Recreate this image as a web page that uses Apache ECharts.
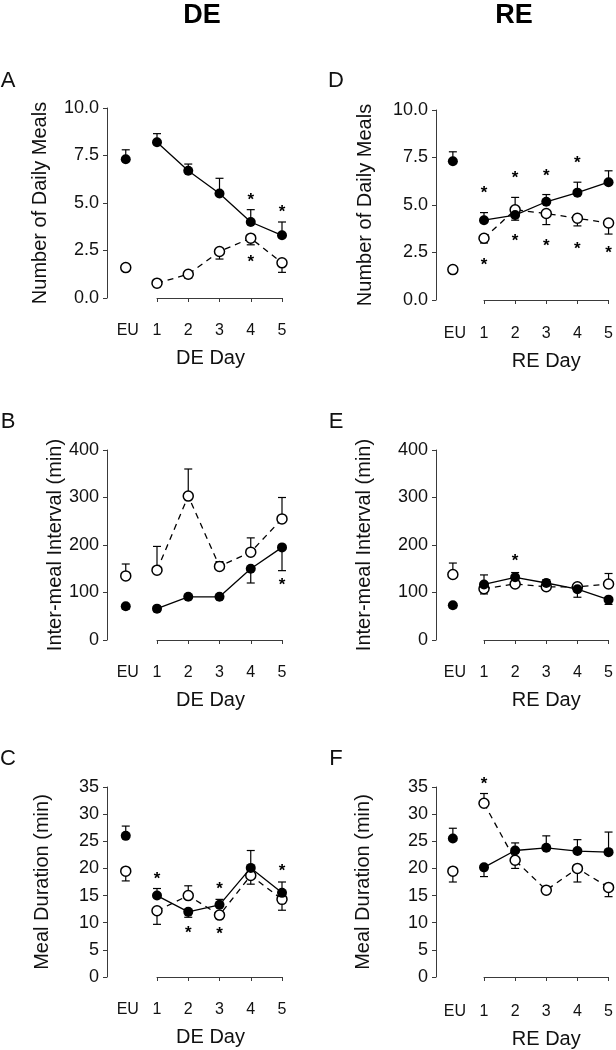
<!DOCTYPE html>
<html><head><meta charset="utf-8">
<script src="https://cdn.jsdelivr.net/npm/echarts@6/dist/echarts.min.js"></script>
<style>html,body{margin:0;padding:0;background:#fff}#c{width:616px;height:1050px}</style>
</head><body><div id="c"></div>
<script>
// ---- DATA ----
const days = [0, 1, 2, 3, 4, 5];           // 0 = EU
const dayTickLabels = ['EU', '1', '2', '3', '4', '5'];
const columnTitles = ['DE', 'RE'];

// Panel A: Number of Daily Meals (DE)
const aFilled    = [7.3, 8.2, 6.7, 5.5, 4.0, 3.3];
const aFilledErr = [7.8, 8.65, 7.05, 6.3, 4.65, 4.0];
const aOpen      = [1.6, 0.78, 1.25, 2.45, 3.15, 1.85];
const aOpenErr   = [1.6, 0.6, 1.05, 2.05, 2.8, 1.35];
const aStarsTop    = [null, null, null, null, 5.37, 4.74];
const aStarsBottom = [null, null, null, null, 2.1, null];

// Panel B: Inter-meal Interval (DE)
const bFilled    = [71, 66, 91, 91, 150, 195];
const bFilledErr = [65, 60, 87, 87, 120, 146];
const bOpen      = [135, 147, 303, 155, 185, 255];
const bOpenErr   = [160, 197, 360, 165, 215, 300];
const bStarsTop    = [null, null, null, null, null, null];
const bStarsBottom = [null, null, null, null, null, 123];

// Panel C: Meal Duration (DE)
const cFilled    = [26, 15, 12, 13.3, 20.1, 15.5];
const cFilledErr = [27.8, 16.3, 11, 14.3, 23.3, 17.5];
const cOpen      = [19.5, 12.2, 15, 11.4, 18.7, 14.3];
const cOpenErr   = [17.7, 9.7, 16.8, 10.9, 17.1, 12.3];
const cStarsTop    = [null, 18.7, null, 16.9, null, 20.2];
const cStarsBottom = [null, null, 8.8, 8.6, null, null];

// Panel D: Number of Daily Meals (RE)
const dFilled    = [7.3, 4.2, 4.47, 5.17, 5.65, 6.2];
const dFilledErr = [7.8, 4.6, 4.2, 5.55, 6.2, 6.8];
const dOpen      = [1.6, 3.25, 4.75, 4.55, 4.3, 4.05];
const dOpenErr   = [1.6, 3.0, 5.4, 3.97, 3.9, 3.47];
const dStarsTop    = [null, 5.8, 6.62, 6.72, 7.4, null];
const dStarsBottom = [null, 2.02, 3.28, 3.03, 2.88, 2.68];

// Panel E: Inter-meal Interval (RE)
const eFilled    = [73, 117, 132, 120, 107, 85];
const eFilledErr = [68, 137, 142, 127, 90, 75];
const eOpen      = [138, 108, 118, 112, 112, 118];
const eOpenErr   = [162, 97, 112, 106, 118, 140];
const eStarsTop    = [null, null, 175, null, null, null];
const eStarsBottom = [null, null, null, null, null, null];

// Panel F: Meal Duration (RE)
const fFilled    = [25.5, 20.2, 23.3, 23.8, 23.2, 23.0];
const fFilledErr = [27.4, 18.5, 24.7, 26.0, 25.3, 26.7];
const fOpen      = [19.5, 32, 21.5, 16, 20, 16.5];
const fOpenErr   = [17.5, 33.8, 20, 15.6, 17.5, 14.8];
const fStarsTop    = [null, 36.3, null, null, null, null];
const fStarsBottom = [null, null, null, null, null, null];

// ---- LAYOUT ----
const FONT = "'Liberation Sans', Arial, Helvetica, sans-serif";
const AXIS_COLOR = '#3a3a3a';
const TEXT_COLOR = '#111';
const cols = [
  { axisX: 107, day1: 157, width: 125, xName: 'DE Day', titleX: 202, letterX: 8 },
  { axisX: 436, day1: 484, width: 127, xName: 'RE Day', titleX: 514, letterX: 336 }
];
const panels = [
  { letter: 'A', col: 0, top: 108, height: 190, max: 10, interval: 2.5, dec: 1, yName: 'Number of Daily Meals', nameGap: 57, xOff: 10, letterY: 81,
    filled: aFilled, filledErr: aFilledErr, open: aOpen, openErr: aOpenErr, starsTop: aStarsTop, starsBottom: aStarsBottom },
  { letter: 'B', col: 0, top: 450, height: 190, max: 400, interval: 100, dec: 0, yName: 'Inter-meal Interval (min)', nameGap: 35, xOff: 10, letterY: 422,
    filled: bFilled, filledErr: bFilledErr, open: bOpen, openErr: bOpenErr, starsTop: bStarsTop, starsBottom: bStarsBottom },
  { letter: 'C', col: 0, top: 787, height: 190, max: 35, interval: 5, dec: 0, yName: 'Meal Duration (min)', nameGap: 55, xOff: 10, letterY: 759,
    filled: cFilled, filledErr: cFilledErr, open: cOpen, openErr: cOpenErr, starsTop: cStarsTop, starsBottom: cStarsBottom },
  { letter: 'D', col: 1, top: 110, height: 190, max: 10, interval: 2.5, dec: 1, yName: 'Number of Daily Meals', nameGap: 61, xOff: 11, letterY: 81,
    filled: dFilled, filledErr: dFilledErr, open: dOpen, openErr: dOpenErr, starsTop: dStarsTop, starsBottom: dStarsBottom },
  { letter: 'E', col: 1, top: 450, height: 190, max: 400, interval: 100, dec: 0, yName: 'Inter-meal Interval (min)', nameGap: 62, xOff: 10, letterY: 422,
    filled: eFilled, filledErr: eFilledErr, open: eOpen, openErr: eOpenErr, starsTop: eStarsTop, starsBottom: eStarsBottom },
  { letter: 'F', col: 1, top: 787, height: 190, max: 35, interval: 5, dec: 0, yName: 'Meal Duration (min)', nameGap: 63, xOff: 12, letterY: 759,
    filled: fFilled, filledErr: fFilledErr, open: fOpen, openErr: fOpenErr, starsTop: fStarsTop, starsBottom: fStarsBottom }
];

const grid = [], xAxis = [], yAxis = [], series = [];

function errRender(params, api) {
  const p = api.coord([api.value(0), api.value(1)]);
  const e = api.coord([api.value(0), api.value(2)]);
  const cap = 4;
  return {
    type: 'group',
    children: [
      { type: 'line', shape: { x1: p[0], y1: p[1], x2: e[0], y2: e[1] }, style: { stroke: '#000', lineWidth: 1.2 } },
      { type: 'line', shape: { x1: e[0] - cap, y1: e[1], x2: e[0] + cap, y2: e[1] }, style: { stroke: '#000', lineWidth: 1.2 } }
    ]
  };
}
function starRender(params, api) {
  const p = api.coord([api.value(0), api.value(1)]);
  return {
    type: 'text',
    x: p[0], y: p[1] + 4,
    style: { text: '*', font: 'bold 17px ' + FONT, fill: '#000', align: 'center', verticalAlign: 'middle' }
  };
}

panels.forEach((pn, i) => {
  const c = cols[pn.col];
  grid.push({ left: c.day1, width: c.width, top: pn.top, height: pn.height, containLabel: false });
  xAxis.push({
    gridIndex: i, type: 'value', min: 1, max: 5, interval: 1, position: 'bottom', offset: pn.xOff,
    axisLine: { show: true, lineStyle: { color: AXIS_COLOR, width: 1 } },
    axisTick: { show: true, inside: false, length: 4, lineStyle: { color: AXIS_COLOR } },
    axisLabel: { fontSize: 16, color: TEXT_COLOR, fontFamily: FONT, margin: 15, formatter: v => dayTickLabels[v] },
    splitLine: { show: false },
    name: c.xName, nameLocation: 'middle', nameGap: 40,
    nameTextStyle: { fontSize: 20, color: TEXT_COLOR, fontFamily: FONT, padding: pn.col === 0 ? [0, 18, 0, 0] : 0 }
  });
  yAxis.push({
    gridIndex: i, type: 'value', min: 0, max: pn.max, interval: pn.interval, offset: c.day1 - c.axisX,
    axisLine: { show: true, lineStyle: { color: AXIS_COLOR, width: 1 } },
    axisTick: { show: true, inside: false, length: 4, lineStyle: { color: AXIS_COLOR } },
    axisLabel: { fontSize: 18, color: TEXT_COLOR, fontFamily: FONT, margin: 8, formatter: v => v.toFixed(pn.dec) },
    splitLine: { show: false },
    name: pn.yName, nameLocation: 'middle', nameGap: pn.nameGap,
    nameTextStyle: { fontSize: 20, color: TEXT_COLOR, fontFamily: FONT }
  });
  const ax = { xAxisIndex: i, yAxisIndex: i };
  series.push({ type: 'custom', ...ax, clip: false, z: 2, renderItem: errRender,
    data: days.map((d, k) => [d, pn.filled[k], pn.filledErr[k]]) });
  series.push({ type: 'custom', ...ax, clip: false, z: 2, renderItem: errRender,
    data: days.map((d, k) => [d, pn.open[k], pn.openErr[k]]) });
  series.push({ type: 'line', ...ax, clip: false, z: 3, symbol: 'circle', symbolSize: 10, showSymbol: true,
    lineStyle: { color: '#000', width: 1.3, type: [6, 5] },
    itemStyle: { color: '#fff', borderColor: '#000', borderWidth: 1.5, opacity: 1 },
    data: days.slice(1).map(d => [d, pn.open[d]]) });
  series.push({ type: 'line', ...ax, clip: false, z: 4, symbol: 'circle', symbolSize: 10, showSymbol: true,
    lineStyle: { color: '#000', width: 1.3 },
    itemStyle: { color: '#000', borderColor: '#000', borderWidth: 0, opacity: 1 },
    data: days.slice(1).map(d => [d, pn.filled[d]]) });
  series.push({ type: 'scatter', ...ax, clip: false, z: 4, symbol: 'circle', symbolSize: 10,
    itemStyle: { color: '#fff', borderColor: '#000', borderWidth: 1.5, opacity: 1 },
    data: [[days[0], pn.open[0]]] });
  series.push({ type: 'scatter', ...ax, clip: false, z: 4, symbol: 'circle', symbolSize: 10,
    itemStyle: { color: '#000', opacity: 1 },
    data: [[days[0], pn.filled[0]]] });
  const stars = [];
  days.forEach((d, k) => {
    if (pn.starsTop[k] != null) stars.push([d, pn.starsTop[k]]);
    if (pn.starsBottom[k] != null) stars.push([d, pn.starsBottom[k]]);
  });
  series.push({ type: 'custom', ...ax, clip: false, z: 5, renderItem: starRender, data: stars });
});

const chart = echarts.init(document.getElementById('c'), null, { renderer: 'canvas' });
chart.setOption({ animation: false, backgroundColor: '#fff', grid, xAxis, yAxis, series });

// Text elements positioned through the axes
const graphic = [];
cols.forEach((c, ci) => {
  graphic.push({ type: 'text', style: { text: columnTitles[ci], x: c.titleX, y: 16, font: 'bold 27px ' + FONT, fill: '#000', align: 'center', verticalAlign: 'middle' } });
});
panels.forEach((pn, i) => {
  const c = cols[pn.col];
  graphic.push({ type: 'text', style: { text: pn.letter, x: c.letterX, y: pn.letterY, font: '22px ' + FONT, fill: TEXT_COLOR, align: 'center', verticalAlign: 'middle' } });
  const p = chart.convertToPixel({ gridIndex: i }, [days[0], 0]);
  graphic.push({ type: 'text', style: { text: dayTickLabels[0], x: p[0] + 2, y: p[1] + pn.xOff + 15, font: '16px ' + FONT, fill: TEXT_COLOR, align: 'center', verticalAlign: 'top' } });
});
chart.setOption({ graphic });
</script>
</body></html>
